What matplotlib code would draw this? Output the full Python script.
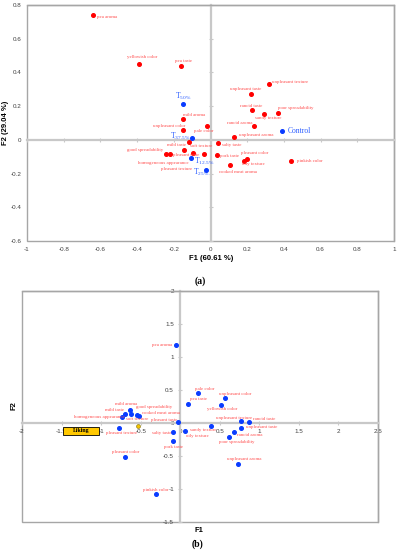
import matplotlib
matplotlib.use('Agg')
import matplotlib.pyplot as plt
from matplotlib.patches import Rectangle

plt.rcParams['mathtext.fontset'] = 'custom'
plt.rcParams['mathtext.rm'] = 'Liberation Serif'
plt.rcParams['mathtext.it'] = 'Liberation Serif:italic'

# ---------------- data: panel (a) ----------------
a_attr = ['pea aroma', 'yellowish color', 'pea taste', 'mild aroma', 'unpleasant color',
          'pale color', 'mild taste', 'pleasant taste', 'soft texture', 'pleasant texture',
          'good spreadability', 'homogeneous appearance', 'salty taste', 'pork taste',
          'pleasant color', 'oily texture', 'pinkish color', 'cooked meat aroma',
          'unpleasant aroma', 'rancid aroma', 'sandy texture', 'poor spreadability',
          'rancid taste', 'unpleasant taste', 'unpleasant texture']
a_f1 = [-0.64, -0.39, -0.16, -0.15, -0.15, -0.02, -0.115, -0.142, -0.033, -0.093,
        -0.245, -0.223, 0.04, 0.035, 0.20, 0.18, 0.44, 0.105, 0.13, 0.235, 0.29, 0.37,
        0.225, 0.22, 0.32]
a_f2 = [0.74, 0.45, 0.44, 0.125, 0.06, 0.08, -0.012, -0.06, -0.083, -0.077,
        -0.083, -0.083, -0.018, -0.09, -0.113, -0.125, -0.125, -0.15, 0.018, 0.083,
        0.155, 0.16, 0.18, 0.27, 0.33]
a_prod = [r'T$_{50\%}$', r'T$_{37.5\%}$', r'T$_{12.5\%}$', r'T$_{25\%}$', 'Control']
a_pf1 = [-0.15, -0.10, -0.104, -0.022, 0.39]
a_pf2 = [0.215, 0.012, -0.107, -0.179, 0.053]
a_ticks_x = [-1, -0.8, -0.6, -0.4, -0.2, 0, 0.2, 0.4, 0.6, 0.8, 1]
a_ticks_y = [-0.6, -0.4, -0.2, 0, 0.2, 0.4, 0.6, 0.8]

# ---------------- data: panel (b) ----------------
b_attr = ['pea aroma', 'pale color', 'pea taste', 'unpleasant color', 'yellowish color',
          'unpleasant texture', 'rancid taste', 'unpleasant taste', 'rancid aroma',
          'poor spreadability', 'sandy texture', 'oily texture', 'unpleasant aroma',
          'pleasant taste', 'salty taste', 'pork taste', 'cooked meat aroma', 'soft texture',
          'good spreadability', 'mild aroma', 'mild taste', 'homogeneous appearance',
          'pleasant texture', 'pleasant color', 'pinkish color']
b_f1 = [-0.05, 0.23, 0.10, 0.56, 0.52, 0.77, 0.87, 0.77, 0.68, 0.62, 0.39, 0.065, 0.73,
        -0.025, -0.09, -0.09, -0.52, -0.545, -0.62, -0.63, -0.70, -0.735, -0.77, -0.70, -0.30]
b_f2 = [1.18, 0.45, 0.29, 0.38, 0.27, 0.03, 0.015, -0.075, -0.135, -0.21, -0.045, -0.12,
        -0.62, 0.015, -0.135, -0.27, 0.105, 0.12, 0.135, 0.195, 0.135, 0.09, -0.075, -0.51, -1.07]
b_liking_f1 = [-0.53]
b_liking_f2 = [-0.045]
b_liking_label = 'Liking'
b_ticks_x = [-2, -1.5, -1, -0.5, 0, 0.5, 1, 1.5, 2, 2.5]
b_ticks_y = [-1.5, -1, -0.5, 0, 0.5, 1, 1.5, 2]

# ---------------- label placement (pixel offsets, alignment) ----------------
a_off = {
    'pea aroma': (4, -2, 'left'), 'yellowish color': (3, 7, 'center'),
    'pea taste': (2, 5, 'center'), 'mild aroma': (11, 4, 'center'),
    'unpleasant color': (-14, 4, 'center'), 'pale color': (-3, -5, 'center'),
    'mild taste': (-3, -3, 'right'), 'pleasant taste': (2, -5, 'center'),
    'soft texture': (-3, 8, 'center'), 'pleasant texture': (-17, -16, 'center'),
    'good spreadability': (-2, 4, 'right'), 'homogeneous appearance': (-6, -9, 'center'),
    'salty taste': (4, -2, 'left'), 'pork taste': (3, -1, 'left'),
    'pleasant color': (7, 6, 'center'), 'oily texture': (10, -3, 'center'),
    'pinkish color': (6, 0, 'left'), 'cooked meat aroma': (8, -7, 'center'),
    'unpleasant aroma': (5, 2, 'left'), 'rancid aroma': (-1, 3, 'right'),
    'sandy texture': (5, -4, 'center'), 'poor spreadability': (17, 5, 'center'),
    'rancid taste': (-1, 4, 'center'), 'unpleasant taste': (-5, 5, 'center'),
    'unpleasant texture': (3, 2, 'left'),
}
a_poff = [(0, 7, 'center'), (-2, 1, 'right'), (3, -4, 'left'), (3, -2, 'right'), (6, 0, 'left')]
b_off = {
    'pea aroma': (-4, 0, 'right'), 'pale color': (6, 4, 'center'),
    'pea taste': (10, 5, 'center'), 'unpleasant color': (11, 4, 'center'),
    'yellowish color': (1, -4, 'center'), 'unpleasant texture': (-7, 3, 'center'),
    'rancid taste': (4, 3, 'left'), 'unpleasant taste': (5, 1, 'left'),
    'rancid aroma': (3, -3, 'left'), 'poor spreadability': (7, -5, 'center'),
    'sandy texture': (-8, -4, 'center'), 'oily texture': (12, -5, 'center'),
    'unpleasant aroma': (6, 5, 'center'), 'pleasant taste': (-1, 2, 'right'),
    'salty taste': (-2, -1, 'right'), 'pork taste': (0, -6, 'center'),
    'cooked meat aroma': (3, 3, 'left'), 'soft texture': (0, -4, 'center'),
    'good spreadability': (5, 7, 'left'), 'mild aroma': (-4, 6, 'center'),
    'mild taste': (-1, 4, 'right'), 'homogeneous appearance': (3, 0, 'right'),
    'pleasant texture': (2, -5, 'center'), 'pleasant color': (1, 5, 'center'),
    'pinkish color': (-1, 4, 'center'),
}

RED = '#ff0000'
RED_TXT = '#ff4a4a'
BLUE = '#0a3cff'
BLUE_TXT = '#2a5cff'
GRID_AX = '#c8c8c8'
BOX = '#a6a6a6'
TICKC = '#404040'
SERIF = 'Liberation Serif'
SANS = 'Liberation Sans'
LBL = 3.5

fig = plt.figure(figsize=(3.99, 5.5), dpi=100)

# ================= panel (a) =================
ax = fig.add_axes([27/399, 1-241/550, (394-27)/399, (241-5)/550])
ax.set_xlim(-1, 1)
ax.set_ylim(-0.6, 0.8)
ax.spines['left'].set_position(('data', 0))
ax.spines['bottom'].set_position(('data', 0))
for s in ['left', 'bottom']:
    ax.spines[s].set_color(GRID_AX)
    ax.spines[s].set_linewidth(1.6)
for s in ['top', 'right']:
    ax.spines[s].set_color(BOX)
    ax.spines[s].set_linewidth(1.0)
ax.add_patch(Rectangle((0, 0), 1, 1, transform=ax.transAxes, fill=False,
                       edgecolor=BOX, lw=1.0, zorder=0.5, clip_on=False))
ax.set_xticks(a_ticks_x)
ax.set_yticks(a_ticks_y)
ax.tick_params(axis='both', direction='inout', length=3, width=0.8, color=GRID_AX,
               labelbottom=False, labelleft=False)
secx = ax.secondary_xaxis(0.0)
secx.set_xticks(a_ticks_x)
secx.set_xticklabels([f'{t:g}' for t in a_ticks_x])
secx.tick_params(length=0, pad=4, labelsize=4.5, labelcolor=TICKC)
secx.spines['bottom'].set_visible(False)
secy = ax.secondary_yaxis(0.0)
secy.set_yticks(a_ticks_y)
secy.set_yticklabels([f'{t:g}' for t in a_ticks_y])
secy.tick_params(length=0, pad=4, labelsize=4.5, labelcolor=TICKC)
secy.spines['left'].set_visible(False)
for lab in secx.get_xticklabels() + secy.get_yticklabels():
    lab.set_fontfamily(SANS)

ax.plot(a_f1, a_f2, 'o', color=RED, ms=2.6, ls='none', zorder=3)
ax.plot(a_pf1, a_pf2, 'o', color=BLUE, ms=2.6, ls='none', zorder=3)
for n, x, y in zip(a_attr, a_f1, a_f2):
    dx, dy, ha = a_off[n]
    ax.annotate(n, (x, y), xytext=(dx, dy), textcoords='offset pixels', ha=ha,
                va='center', fontsize=LBL, color=RED_TXT, family=SERIF)
for n, x, y, (dx, dy, ha) in zip(a_prod, a_pf1, a_pf2, a_poff):
    ax.annotate(n, (x, y), xytext=(dx, dy), textcoords='offset pixels', ha=ha,
                va='center', fontsize=5.5, color=BLUE_TXT, family=SERIF)

fig.text(211/399, 1-259/550, 'F1 (60.61 %)', ha='center', va='center',
         fontsize=5.5, fontweight='bold', family=SANS)
fig.text(6/399, 1-123/550, 'F2 (29.04 %)', ha='center', va='center', rotation=90,
         fontsize=5.5, fontweight='bold', family=SANS)
fig.text(200/399, 1-281/550, '(a)', ha='center', va='center', fontsize=7,
         fontweight='bold', family=SERIF)

# ================= panel (b) =================
bx = fig.add_axes([22/399, 1-522/550, (378-22)/399, (522-291)/550])
bx.set_xlim(-2, 2.5)
bx.set_ylim(-1.5, 2)
bx.spines['left'].set_position(('data', 0))
bx.spines['bottom'].set_position(('data', 0))
for s in ['left', 'bottom']:
    bx.spines[s].set_color(GRID_AX)
    bx.spines[s].set_linewidth(1.6)
for s in ['top', 'right']:
    bx.spines[s].set_color(BOX)
    bx.spines[s].set_linewidth(1.0)
bx.add_patch(Rectangle((0, 0), 1, 1, transform=bx.transAxes, fill=False,
                       edgecolor=BOX, lw=1.0, zorder=0.5, clip_on=False))
bx.set_xticks(b_ticks_x)
bx.set_yticks(b_ticks_y)
bx.set_xticklabels([f'{t:g}' for t in b_ticks_x])
bx.set_yticklabels([f'{t:g}' for t in b_ticks_y])
bx.tick_params(axis='both', direction='inout', length=3, width=0.8, color=GRID_AX,
               labelsize=4.5, labelcolor=TICKC, pad=3)
for lab in bx.get_xticklabels() + bx.get_yticklabels():
    lab.set_fontfamily(SANS)

bx.plot(b_f1, b_f2, 'o', color=BLUE, ms=2.6, ls='none', zorder=3)
bx.plot(b_liking_f1, b_liking_f2, 'o', color='#f5c400', mec='#7a6a00', mew=0.4,
        ms=2.8, ls='none', zorder=3)
for n, x, y in zip(b_attr, b_f1, b_f2):
    dx, dy, ha = b_off[n]
    bx.annotate(n, (x, y), xytext=(dx, dy), textcoords='offset pixels', ha=ha,
                va='center', fontsize=LBL, color=RED_TXT, family=SERIF)
# Liking label box
bx.add_patch(Rectangle((-1.48, -0.18), 0.45, 0.12, facecolor='#ffc800',
                       edgecolor='black', lw=0.6, zorder=5))
bx.text(-1.255, -0.12, b_liking_label, ha='center', va='center', fontsize=4.2,
        fontweight='bold', family=SERIF, color='black', zorder=6)

fig.text(199/399, 1-531/550, 'F1', ha='center', va='center',
         fontsize=5.5, fontweight='bold', family=SANS)
fig.text(14/399, 1-406/550, 'F2', ha='center', va='center', rotation=90,
         fontsize=5.5, fontweight='bold', family=SANS)
fig.text(197/399, 1-544/550, '(b)', ha='center', va='center', fontsize=7,
         fontweight='bold', family=SERIF)

fig.savefig('out.png', dpi=100)
